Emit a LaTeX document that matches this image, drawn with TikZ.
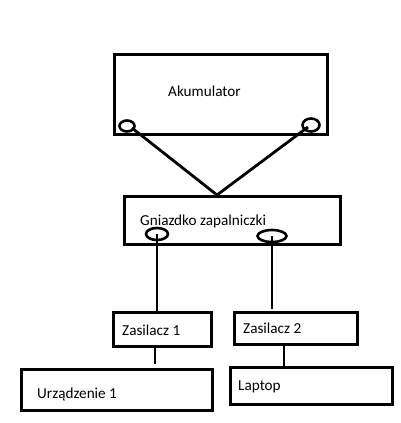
\documentclass[tikz,border=0pt]{standalone}
\usepackage{fontspec}
\setmainfont{Carlito}
\usetikzlibrary{shapes.geometric}
\begin{document}
\begin{tikzpicture}[x=1pt,y=-1pt,
  box/.style={draw,line width=2.8pt,rectangle,inner sep=0pt,anchor=north west},
  lbl/.style={anchor=base west,inner sep=0pt,font=\fontsize{15.2}{18}\selectfont},
  sock/.style={draw,line width=2.6pt,ellipse,inner sep=0pt},
  wire/.style={line width=2.8pt}]
\useasboundingbox (0,0) rectangle (400,423);
% boxes
\node[box,minimum width=213pt,minimum height=80pt] (aku) at (113,53) {};
\node[box,minimum width=216pt,minimum height=48pt] (gn) at (123,195) {};
\node[box,minimum width=98pt,minimum height=34pt] (z1) at (112,311) {};
\node[box,minimum width=123pt,minimum height=32pt] (z2) at (233,311) {};
\node[box,minimum width=191pt,minimum height=41pt] (u1) at (20,368) {};
\node[box,minimum width=162pt,minimum height=37pt] (lap) at (229,366) {};
% labels
\node[lbl] (taku) at (168,96) {Akumulator};
\node[lbl] (tgn) at (140,225) {Gniazdko zapalniczki};
\node[lbl] (tz1) at (122,335) {Zasilacz 1};
\node[lbl] (tz2) at (243,333) {Zasilacz 2};
\node[lbl] (tu1) at (37,398) {Urządzenie 1};
\node[lbl] (tlap) at (238,390) {Laptop};
% sockets
\node[sock,minimum width=15pt,minimum height=11pt] (aL) at (127,126) {};
\node[sock,minimum width=17pt,minimum height=13pt] (aR) at (311,125) {};
\node[sock,minimum width=22pt,minimum height=12pt] (gL) at (157,234) {};
\node[sock,minimum width=29pt,minimum height=12pt] (gR) at (272,236) {};
% connectors
\coordinate (apex) at (217,195);
\draw[wire] (aL.center) ++(5,2) -- (apex);
\draw[wire] (aR.center) ++(-3,2) -- (apex);
\draw[wire] (gL.center) -- (gL.center |- z1.north);
\draw[wire] (gR.center) -- ([yshift=2pt]gR.center |- z2.north);
\coordinate (z1b) at (155,345);
\draw[wire] (z1b |- z1.south) -- ([yshift=4pt]z1b |- u1.north);
\coordinate (z2b) at (284,343);
\draw[wire] (z2b |- z2.south) -- (z2b |- lap.north);
\end{tikzpicture}
\end{document}
